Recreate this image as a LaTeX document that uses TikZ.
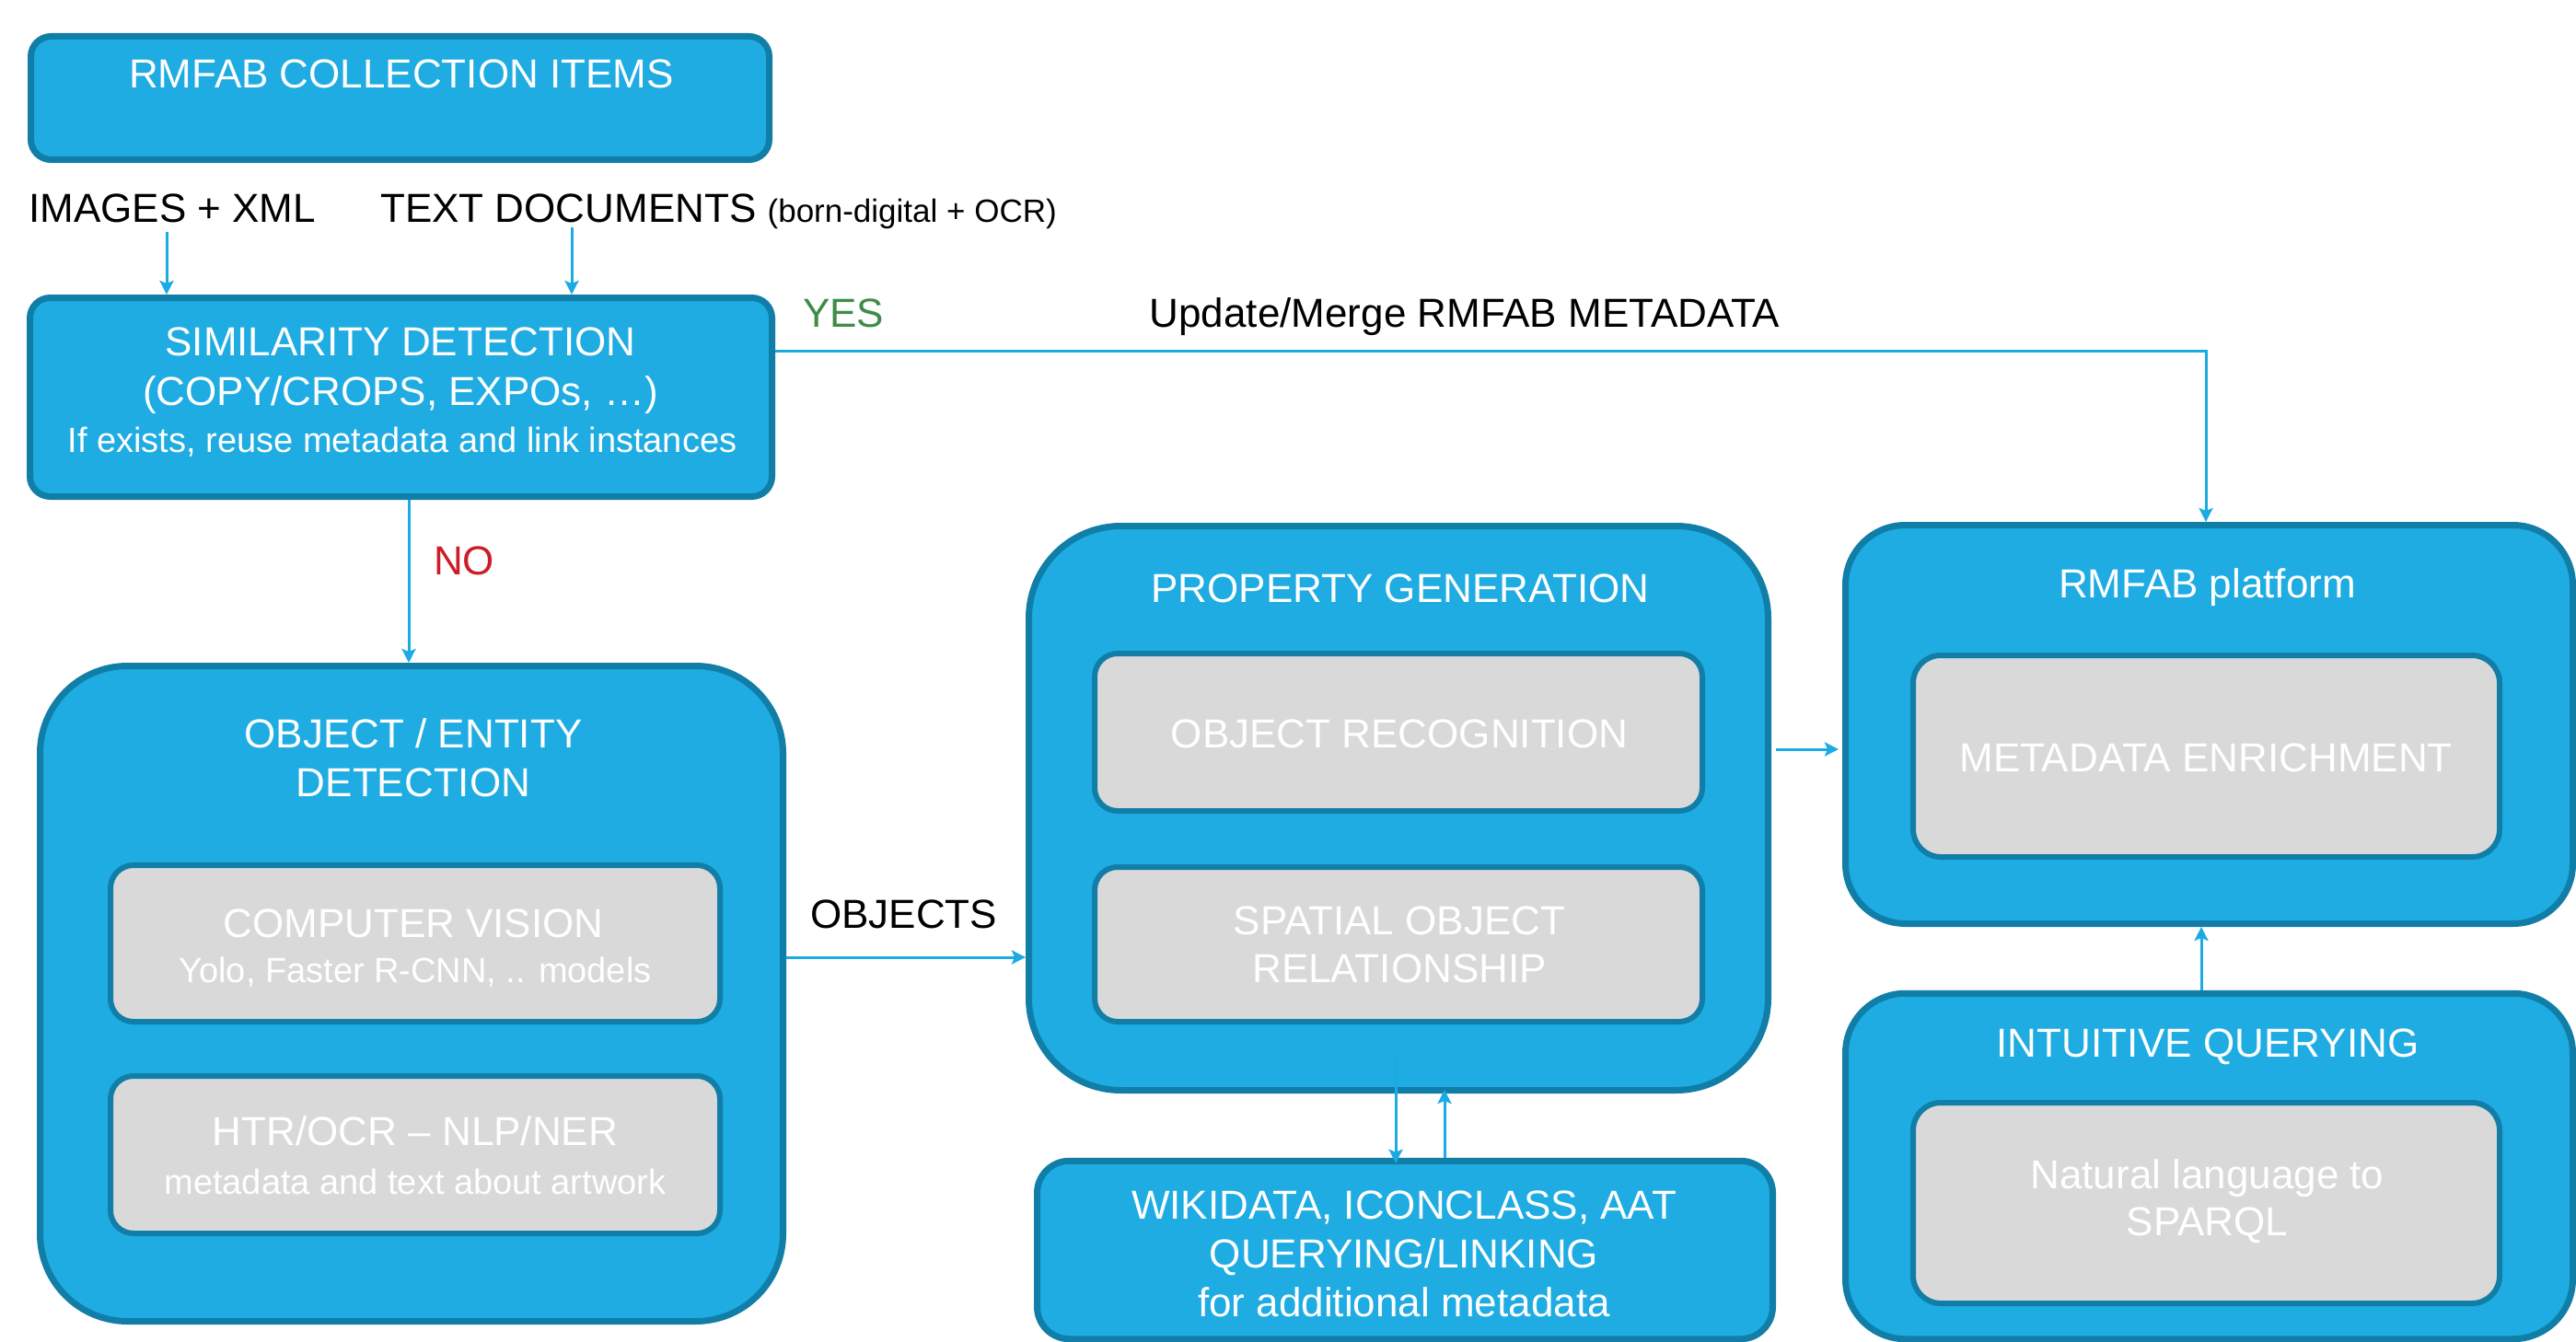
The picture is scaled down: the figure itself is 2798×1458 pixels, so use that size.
\documentclass[tikz,border=0pt]{standalone}
\usepackage{fontspec}
\setmainfont{Liberation Sans}
\usetikzlibrary{arrows.meta}

\definecolor{boxfill}{RGB}{30,172,226}
\definecolor{boxline}{RGB}{17,126,168}
\definecolor{panel}{RGB}{217,217,217}
\definecolor{wire}{RGB}{27,171,227}
\definecolor{yesgreen}{RGB}{62,140,72}
\definecolor{nored}{RGB}{204,30,40}

\tikzset{
  outerbox/.style={draw=boxline, fill=boxfill, line width=7pt, rounded corners=#1, inner sep=0pt},
  panelbox/.style={draw=boxline, fill=panel, line width=6pt, rounded corners=#1, inner sep=0pt},
  bigtxt/.style={inner sep=0pt, anchor=base, font=\fontsize{44}{53}\selectfont},
  smalltxt/.style={inner sep=0pt, anchor=base, font=\fontsize{38}{46}\selectfont},
  wtxt/.style={bigtxt, text=white},
  wsub/.style={smalltxt, text=white},
  flow/.style={draw=wire, line width=3pt, -{Stealth[length=15pt,width=15pt,inset=3pt]}}
}

\begin{document}
\begin{tikzpicture}[x=1pt, y=-1pt]
  \fill[white] (0,0) rectangle (2798,1458);
  \useasboundingbox (0,0) rectangle (2798,1458);

  \begin{scope}
  \clip (0,0) rectangle (2798,1458);

  % ---------- left column ----------
  \node[outerbox=22pt, minimum width=802pt, minimum height=134pt] (coll) at (434.5,106.5) {};
  \node[wtxt] (colltitle) at (436,96) {RMFAB COLLECTION ITEMS};

  \node[bigtxt, anchor=base west] (img) at (31,241) {IMAGES + XML};
  \node[bigtxt, anchor=base west] (txtdoc) at (413,241) {TEXT DOCUMENTS {\fontsize{35}{42}\selectfont (born-digital + OCR)}};

  \node[outerbox=22pt, minimum width=806pt, minimum height=216pt] (sim) at (435.5,431.5) {};
  \node[wtxt] (simt1) at (435,386) {SIMILARITY DETECTION};
  \node[wtxt] (simt2) at (435,440) {(COPY/CROPS, EXPOs, \dots)};
  \node[wsub] (simt3) at (437,491) {If exists, reuse metadata and link instances};

  \node[outerbox=95pt, minimum width=807pt, minimum height=712pt] (obj) at (447,1079.5) {};
  \node[wtxt] (objt1) at (449,812) {OBJECT / ENTITY};
  \node[wtxt] (objt2) at (449,865) {DETECTION};

  \node[panelbox=25pt, minimum width=662pt, minimum height=170pt] (cv) at (451,1025) {};
  \node[wtxt] (cvt1) at (449,1018) {COMPUTER VISION};
  \node[wsub] (cvt2) at (451,1067) {Yolo, Faster R-CNN, .. models};

  \node[panelbox=25pt, minimum width=662pt, minimum height=171pt] (htr) at (451,1254.5) {};
  \node[wtxt] (htrt1) at (451,1244) {HTR/OCR -- NLP/NER};
  \node[wsub] (htrt2) at (451,1297) {metadata and text about artwork};

  % ---------- middle column ----------
  \node[outerbox=100pt, minimum width=803pt, minimum height=613pt] (prop) at (1519,878) {};
  \node[wtxt] (propt) at (1521,654) {PROPERTY GENERATION};

  \node[panelbox=25pt, minimum width=660pt, minimum height=171pt] (orec) at (1519,795.5) {};
  \node[wtxt] (orect) at (1520,812) {OBJECT RECOGNITION};

  \node[panelbox=25pt, minimum width=660pt, minimum height=168pt] (spat) at (1519,1026) {};
  \node[wtxt] (spatt1) at (1520,1015) {SPATIAL OBJECT};
  \node[wtxt] (spatt2) at (1520,1067) {RELATIONSHIP};

  \node[outerbox=35pt, minimum width=799pt, minimum height=193.5pt] (wiki) at (1526,1358) {};
  \node[wtxt] (wikit1) at (1525,1324) {WIKIDATA, ICONCLASS, AAT};
  \node[wtxt] (wikit2) at (1525,1377) {QUERYING/LINKING};
  \node[wtxt] (wikit3) at (1525,1430) {for additional metadata};

  % ---------- right column ----------
  \node[outerbox=65pt, minimum width=790pt, minimum height=433pt] (plat) at (2399.5,787) {};
  \node[wtxt] (platt) at (2397.5,649) {RMFAB platform};

  \node[panelbox=30pt, minimum width=637pt, minimum height=219pt] (meta) at (2396.5,821.5) {};
  \node[wtxt] (metat) at (2396,838) {METADATA ENRICHMENT};

  \node[outerbox=65pt, minimum width=790pt, minimum height=375.5pt] (intu) at (2399.5,1267) {};
  \node[wtxt] (intut) at (2398,1148) {INTUITIVE QUERYING};

  \node[panelbox=30pt, minimum width=637pt, minimum height=218pt] (nl) at (2396.5,1307) {};
  \node[wtxt] (nlt1) at (2397.5,1291) {Natural language to};
  \node[wtxt] (nlt2) at (2397.5,1342) {SPARQL};

  % ---------- connectors ----------
  \coordinate (imgdrop) at (181,252);
  \coordinate (txtdrop) at (621,247);
  \draw[flow] (imgdrop) -- (imgdrop |- sim.north);
  \draw[flow] (txtdrop) -- (txtdrop |- sim.north);

  \coordinate (yesturn) at (2396,381);
  \draw[flow] (sim.east |- yesturn) -- (yesturn) -- (yesturn |- plat.north);
  \node[bigtxt, anchor=base west, text=yesgreen] (yes) at (872,355) {YES};
  \node[bigtxt] (upd) at (1591,355) {Update/Merge RMFAB METADATA};

  \coordinate (nodrop) at (444,0);
  \draw[flow] (nodrop |- sim.south) -- (nodrop |- obj.north);
  \node[bigtxt, anchor=base west, text=nored] (no) at (471,624) {NO};

  \coordinate (objrow) at (0,1040);
  \draw[flow] (obj.east |- objrow) -- (prop.west |- objrow);
  \node[bigtxt, anchor=base west] (objlbl) at (880,1008) {OBJECTS};

  \coordinate (platrow) at (0,814);
  \draw[flow] ([xshift=5pt]prop.east |- platrow) -- ([xshift=-4pt]plat.west |- platrow);

  \coordinate (wikidown) at (1516,1150);
  \draw[flow] (wikidown) -- ([yshift=-6pt]wikidown |- wiki.north);
  \coordinate (wikiup) at (1569,0);
  \draw[flow] (wikiup |- wiki.north) -- ([yshift=4pt]wikiup |- prop.south);

  \coordinate (intuup) at (2391,0);
  \draw[flow] (intuup |- intu.north) -- (intuup |- plat.south);
  \end{scope}
\end{tikzpicture}
\end{document}
